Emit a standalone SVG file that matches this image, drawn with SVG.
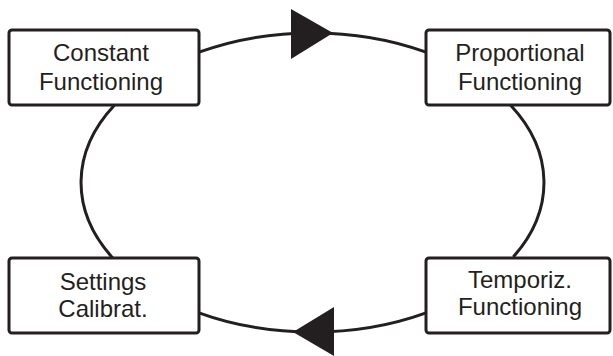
<svg xmlns="http://www.w3.org/2000/svg" width="613" height="356" viewBox="0 0 613 356">
<style>
.box{fill:#fff;stroke:#231f20;stroke-width:3}
.arc{fill:none;stroke:#231f20;stroke-width:3}
.head{fill:#231f20;stroke:none}
text{font-family:"Liberation Sans",Arial,sans-serif;font-size:24px;fill:#231f20;text-anchor:middle}
</style>
<rect width="613" height="356" fill="#fff"/>
<g id="connectors">
<path class="arc" d="M199,52.2 A231.5,149.5 0 0 1 426,52.2"/>
<path class="arc" d="M510.4,105 A231.5,149.5 0 0 1 513.2,257"/>
<path class="arc" d="M426,312.8 A231.5,149.5 0 0 1 199,312.8"/>
<path class="arc" d="M112.7,258 A231.5,149.5 0 0 1 114.6,105"/>
<polygon class="head" points="291,9 291,59 333,33"/>
<polygon class="head" points="334,307 334,356 293,332"/>
</g>
<g id="constant">
<rect class="box" x="9" y="30" width="190" height="75" rx="3"/>
<text x="101" y="61">Constant</text>
<text x="101" y="90">Functioning</text>
</g>
<g id="proportional">
<rect class="box" x="426" y="30" width="184" height="75" rx="3"/>
<text x="520" y="61">Proportional</text>
<text x="520" y="90">Functioning</text>
</g>
<g id="settings">
<rect class="box" x="9" y="258" width="190" height="75" rx="3"/>
<text x="103" y="290">Settings</text>
<text x="103" y="317">Calibrat.</text>
</g>
<g id="temporiz">
<rect class="box" x="426" y="258" width="184" height="75" rx="3"/>
<text x="520" y="288">Temporiz.</text>
<text x="520" y="315">Functioning</text>
</g>
</svg>
